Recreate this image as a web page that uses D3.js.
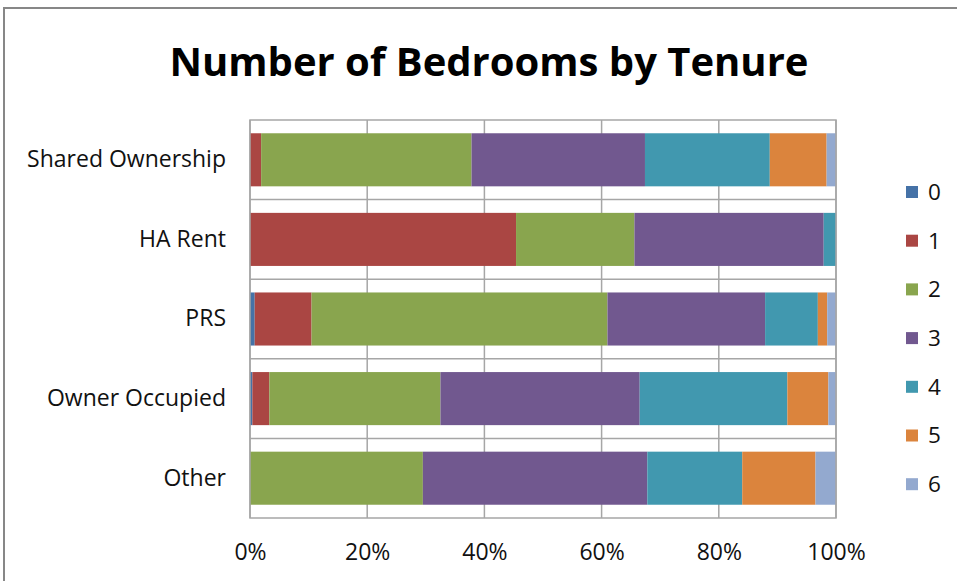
<!DOCTYPE html>
<html>
<head>
  <meta charset="UTF-8">
  <title>Number of Bedrooms by Tenure</title>
  <script src="https://d3js.org/d3.v7.min.js"></script>
  <style>
    body {
      margin: 0;
      background: #fff;
    }
    svg {
      display: block;
      font-family: "Open Sans", Lato, sans-serif;
    }
    .tick text {
      font-family: "Open Sans", Lato, sans-serif;
      font-size: 23px;
      fill: #111;
    }
    .legend text {
      font-size: 22.5px;
      fill: #111;
    }
  </style>
</head>
<body>

  <svg width="957" height="581"></svg>

  <script>
    // tenure categories, top to bottom
    const tenures = ["Shared Ownership", "HA Rent", "PRS", "Owner Occupied", "Other"];
    // number of bedrooms (series)
    const bedrooms = ["0", "1", "2", "3", "4", "5", "6"];
    // share of each tenure's stock (%)
    const beds0 = [0, 0, 0.8, 0.4, 0];
    const beds1 = [1.9, 45.4, 9.7, 2.9, 0];
    const beds2 = [35.9, 20.2, 50.5, 29.2, 29.5];
    const beds3 = [29.6, 32.3, 26.9, 34.0, 38.3];
    const beds4 = [21.3, 2.1, 9.0, 25.2, 16.2];
    const beds5 = [9.7, 0, 1.6, 7.0, 12.5];
    const beds6 = [1.6, 0, 1.5, 1.3, 3.5];
    const xTicks = [0, 0.2, 0.4, 0.6, 0.8, 1];

    const seriesVals = [beds0, beds1, beds2, beds3, beds4, beds5, beds6];
    const colors = ["#4572A7", "#AA4643", "#89A54E", "#71588F", "#4198AF", "#DB843D", "#93A9CF"];

    const rows = tenures.map((t, i) => {
      const r = { tenure: t };
      bedrooms.forEach((b, j) => r[b] = seriesVals[j][i]);
      return r;
    });

    const svg = d3.select("svg");
    const margin = { top: 120, right: 121, bottom: 63, left: 250 };
    const w = +svg.attr("width") - margin.left - margin.right;
    const h = +svg.attr("height") - margin.top - margin.bottom;

    // chart area frame (runs off the right and bottom of the picture)
    svg.append("rect")
      .attr("x", 4).attr("y", 8)
      .attr("width", 1200).attr("height", 1200)
      .attr("fill", "#fff")
      .attr("stroke", "#878787")
      .attr("stroke-width", 2);

    svg.append("text")
      .attr("x", 489).attr("y", 76)
      .attr("text-anchor", "middle")
      .style("font-size", "40px")
      .style("font-weight", "bold")
      .text("Number of Bedrooms by Tenure");

    const g = svg.append("g").attr("transform", `translate(${margin.left},${margin.top})`);

    const x = d3.scaleLinear().domain([0, 1]).range([0, w]);
    const y = d3.scaleBand().domain(tenures).range([0, h]).padding(0);

    // gridlines
    g.selectAll(".vgrid")
      .data(xTicks)
      .enter()
      .append("line")
      .attr("x1", d => x(d)).attr("x2", d => x(d))
      .attr("y1", 0).attr("y2", h)
      .attr("stroke", "#a6a6a6")
      .attr("stroke-width", 1.5);

    g.selectAll(".hgrid")
      .data(tenures.slice(1))
      .enter()
      .append("line")
      .attr("x1", 0).attr("x2", w)
      .attr("y1", d => y(d)).attr("y2", d => y(d))
      .attr("stroke", "#a6a6a6")
      .attr("stroke-width", 1.5);

    const stack = d3.stack().keys(bedrooms).offset(d3.stackOffsetExpand);
    const layers = stack(rows);

    const barInset = y.bandwidth() / 6;

    g.selectAll(".layer")
      .data(layers)
      .enter()
      .append("g")
      .attr("fill", (d, i) => colors[i])
      .selectAll("rect")
      .data(d => d)
      .enter()
      .append("rect")
      .attr("x", d => x(d[0]))
      .attr("y", d => y(d.data.tenure) + barInset)
      .attr("width", d => x(d[1]) - x(d[0]))
      .attr("height", y.bandwidth() - 2 * barInset);

    // plot area border
    g.append("rect")
      .attr("width", w).attr("height", h)
      .attr("fill", "none")
      .attr("stroke", "#a6a6a6")
      .attr("stroke-width", 1.5);

    const xAxis = g.append("g")
      .attr("transform", `translate(0,${h})`)
      .call(d3.axisBottom(x).tickValues(xTicks).tickFormat(d3.format(".0%")).tickSize(0).tickPadding(26));
    xAxis.select(".domain").remove();

    const yAxis = g.append("g")
      .call(d3.axisLeft(y).tickSize(0).tickPadding(24));
    yAxis.select(".domain").remove();

    // legend
    const legend = svg.append("g").attr("class", "legend")
      .selectAll("g")
      .data(bedrooms)
      .enter()
      .append("g")
      .attr("transform", (d, i) => `translate(906,${192 + i * 48.7})`);

    legend.append("rect")
      .attr("x", 0).attr("y", -6)
      .attr("width", 12).attr("height", 12)
      .attr("fill", (d, i) => colors[i]);

    legend.append("text")
      .attr("x", 22).attr("y", 0)
      .attr("dy", "0.35em")
      .text(d => d);
  </script>

</body>
</html>
